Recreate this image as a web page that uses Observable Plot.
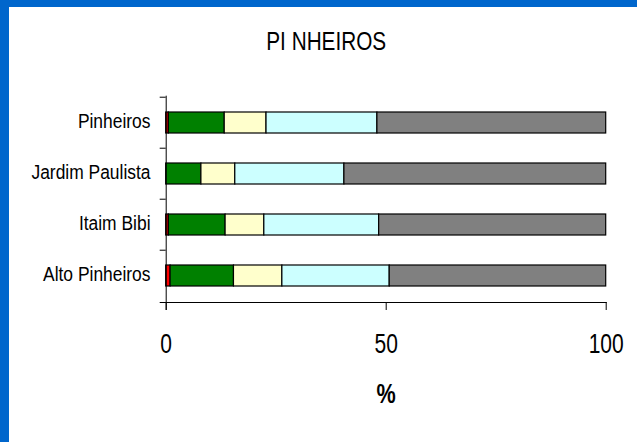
<!DOCTYPE html>
<html>
<head>
<meta charset="utf-8">
<script src="https://cdn.jsdelivr.net/npm/d3@7"></script>
<script src="https://cdn.jsdelivr.net/npm/@observablehq/plot@0.6"></script>
<style>
  html, body { margin: 0; padding: 0; background: #fff; }
  body { width: 637px; height: 442px; position: relative; overflow: hidden;
         font-family: "Liberation Sans", Arial, sans-serif; }
  #bl { position: absolute; left: 0; top: 0; width: 9px; height: 442px; background: #0066CC; }
  #bt { position: absolute; left: 0; top: 0; width: 637px; height: 7px; background: #0066CC; }
  #title { position: absolute; left: 0; width: 653px; top: 29px; text-align: center;
           font-size: 25px; line-height: 25px; color: #000; }
  #title span { display: inline-block; transform: scaleX(0.83); transform-origin: 50% 50%; }
  #xlabel span { display: inline-block; transform: scaleX(0.8); transform-origin: 50% 50%; }
  #chart { position: absolute; left: 0; top: 0; }
  #xlabel { position: absolute; left: 0; width: 772px; top: 381px; text-align: center;
            font-size: 27px; line-height: 26px; font-weight: bold; color: #000; }
</style>
</head>
<body>
<div id="chart"></div>
<div id="bl"></div>
<div id="bt"></div>
<div id="title"><span>PI NHEIROS</span></div>
<div id="xlabel"><span>%</span></div>
<script>
// Data (percent of each district)
const categories = ["Pinheiros", "Jardim Paulista", "Itaim Bibi", "Alto Pinheiros"];
const seriesNames = ["Série 1", "Série 2", "Série 3", "Série 4", "Série 5"];
const serie1 = [0.6, 0.0, 0.6, 1.0];
const serie2 = [12.7, 8.0, 12.9, 14.4];
const serie3 = [9.5, 7.7, 8.8, 11.0];
const serie4 = [25.2, 24.8, 26.1, 24.4];
const serie5 = [52.0, 59.5, 51.6, 49.2];
const seriesColors = ["#FF0000", "#008000", "#FFFFCC", "#CCFFFF", "#808080"];
const xTicks = [0, 50, 100];

const seriesValues = [serie1, serie2, serie3, serie4, serie5];
const rows = [];
categories.forEach((c, i) => {
  seriesNames.forEach((s, j) => {
    rows.push({district: c, series: s, value: seriesValues[j][i]});
  });
});

const W = 637, H = 442;
const mTop = 95.7, mBottom = 140, mLeft = 165.7, mRight = 31.3;
const step = (H - mTop - mBottom) / categories.length;
const FONT = '"Liberation Sans", Arial, sans-serif';

const chart = Plot.plot({
  width: W,
  height: H,
  marginTop: mTop,
  marginBottom: mBottom,
  marginLeft: mLeft,
  marginRight: mRight,
  style: {background: "transparent", fontFamily: FONT, color: "#000"},
  x: {domain: [0, 100]},
  y: {domain: categories, paddingInner: 0.59, paddingOuter: 0.295},
  color: {domain: seriesNames, range: seriesColors},
  marks: [
    Plot.barX(rows, Plot.stackX({
      x: "value", y: "district", fill: "series",
      stroke: "#000", strokeWidth: 1.2
    })),
    // vertical axis line (extends slightly below x axis)
    Plot.ruleX([0], {stroke: "#000", strokeWidth: 1, insetBottom: -8}),
    // horizontal axis line (extends slightly left of y axis)
    Plot.frame({anchor: "bottom", stroke: "#000", strokeWidth: 1, insetLeft: -6}),
    // category boundary ticks on the y axis
    Plot.ruleY(categories, {y: d => d, dy: -step / 2, x1: -6 / 4.4, x2: 0, stroke: "#000", strokeWidth: 1}),
    Plot.axisX({ticks: xTicks, tickSize: 8, tickPadding: 23, fontSize: 28, label: null, stroke: "#000", strokeOpacity: 1}),
    Plot.axisY({tickSize: 0, tickPadding: 15.7, fontSize: 21, label: null, dy: -1.5})
  ]
});
// emulate the condensed (narrow) typeface of the original
chart.querySelectorAll("g[aria-label]").forEach(g => {
  const lbl = g.getAttribute("aria-label") || "";
  if (!/tick label/.test(lbl)) return;
  const s = /x-axis/.test(lbl) ? 0.75 : 0.83;
  g.querySelectorAll("text").forEach(t => {
    const tr = t.getAttribute("transform");
    if (tr && !t.hasAttribute("x")) t.setAttribute("transform", tr + ` scale(${s},1)`);
  });
});
document.getElementById("chart").appendChild(chart);
</script>
</body>
</html>
